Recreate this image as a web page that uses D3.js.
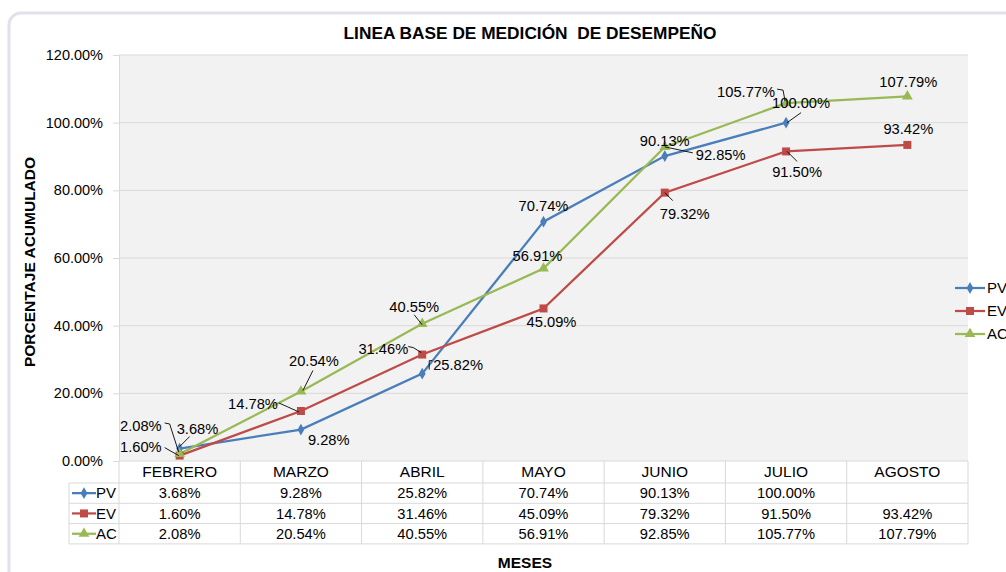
<!DOCTYPE html>
<html>
<head>
<meta charset="utf-8">
<script src="https://cdn.jsdelivr.net/npm/d3@7"></script>
<style>
  body { margin: 0; background: #fff; }
  svg { font-family: "Liberation Sans", Arial, sans-serif; }
</style>
</head>
<body>
<svg id="chart" width="1006" height="572"></svg>
<script>
// datos del grafico
var meses = ["FEBRERO", "MARZO", "ABRIL", "MAYO", "JUNIO", "JULIO", "AGOSTO"];
var pv = [3.68, 9.28, 25.82, 70.74, 90.13, 100.00, null];
var ev = [1.60, 14.78, 31.46, 45.09, 79.32, 91.50, 93.42];
var ac = [2.08, 20.54, 40.55, 56.91, 92.85, 105.77, 107.79];
var yTicks = [0, 20, 40, 60, 80, 100, 120];

var series = [
  { name: "PV", values: pv, color: "#4a7ebb", marker: "diamond" },
  { name: "EV", values: ev, color: "#be4b48", marker: "square" },
  { name: "AC", values: ac, color: "#98b954", marker: "triangle" }
];

// posicion de las etiquetas (dx, dy, anchor, linea guia)
var labelPos = {
  PV: [[-3, -20, "start", [[0, -2], [10, -12]]], [7, 10, "start"], [11, -9, "start", [[7, -4], [7, -13], [10, -13]]],
       [0, -16, "middle"], [0, -15, "middle"], [15, -20, "middle", [[1, 0], [15, -10]]], null],
  EV: [[-18, -9, "end", [[-15, -8], [-1, 0]]], [-23, -7, "end", [[-22, -8], [-13, -4], [-2, 1]]],
       [-14, -6, "end", [[-14, -8], [-9, -7], [-1, -2]]], [8, 13, "middle"],
       [-5, 21, "start", [[0, 0], [8, 8]]], [11, 20, "middle", [[1, 0], [11, 10]]], [1, -16, "middle"]],
  AC: [[-18, -28, "end", [[-15, -31], [-10, -30], [-1, -2]]], [13, -31, "middle", [[12, -21], [2, -1]]],
       [-8, -17, "middle", [[-8, -9], [0, 1]]], [-6, -13, "middle"], [31, 8, "start", [[0, 0], [28, 6]]],
       [-11, -11, "end", [[-9, -14], [-3, -13], [-1, -2]]], [1, -14, "middle"]]
};

var svg = d3.select("#chart");
var plotLeft = 119, plotRight = 968, plotTop = 55, plotBottom = 461;

// marco exterior
svg.append("rect")
  .attr("x", 9).attr("y", 13).attr("width", 1010).attr("height", 580)
  .attr("rx", 12)
  .attr("fill", "#fff").attr("stroke", "#e4dfec").attr("stroke-width", 3);

var x = d3.scaleBand().domain(meses).range([plotLeft, plotRight]);
var y = d3.scaleLinear().domain([0, 120]).range([plotBottom, plotTop]);
function cx(i) { return x(meses[i]) + x.bandwidth() / 2; }

// area de trazado
svg.append("rect")
  .attr("x", plotLeft).attr("y", plotTop).attr("width", plotRight - plotLeft).attr("height", plotBottom - plotTop)
  .attr("fill", "#f2f2f2");

svg.append("g").selectAll("line").data(yTicks.slice(1)).enter().append("line")
  .attr("x1", plotLeft).attr("x2", plotRight)
  .attr("y1", function (d) { return y(d); }).attr("y2", function (d) { return y(d); })
  .attr("stroke", "#d9d9d9").attr("stroke-width", 1);

var yAxis = svg.append("g")
  .attr("transform", "translate(" + plotLeft + ",0)")
  .call(d3.axisLeft(y).tickValues(yTicks).tickSize(6).tickPadding(10)
    .tickFormat(function (d) { return d.toFixed(2) + "%"; }));
yAxis.select(".domain").attr("stroke", "#d9d9d9");
yAxis.selectAll(".tick line").attr("stroke", "#d9d9d9");
yAxis.selectAll(".tick text").attr("font-size", 14.5).attr("fill", "#000")
  .attr("font-family", "Liberation Sans, Arial, sans-serif");

// titulo
svg.append("text")
  .attr("x", 530).attr("y", 39).attr("text-anchor", "middle")
  .attr("font-size", 17.3).attr("font-weight", "bold")
  .style("white-space", "pre")
  .text("LINEA BASE DE MEDICIÓN  DE DESEMPEÑO");

svg.append("text")
  .attr("transform", "translate(35,262) rotate(-90)")
  .attr("text-anchor", "middle").attr("font-size", 15.5).attr("font-weight", "bold")
  .text("PORCENTAJE ACUMULADO");

svg.append("text")
  .attr("x", 525).attr("y", 568).attr("text-anchor", "middle")
  .attr("font-size", 15.5).attr("font-weight", "bold")
  .text("MESES");

function drawMarker(g, type, px, py, color) {
  if (type === "diamond") {
    g.append("path").attr("d", d3.symbol().type(d3.symbolDiamond).size(40)())
      .attr("transform", "translate(" + px + "," + py + ")").attr("fill", color);
  } else if (type === "square") {
    g.append("rect").attr("x", px - 4).attr("y", py - 4).attr("width", 8).attr("height", 8)
      .attr("fill", color);
  } else {
    g.append("path").attr("d", d3.symbol().type(d3.symbolTriangle).size(50)())
      .attr("transform", "translate(" + px + "," + py + ")").attr("fill", color);
  }
}

// lineas y marcadores
var line = d3.line()
  .defined(function (d) { return d != null; })
  .x(function (d, i) { return cx(i); })
  .y(function (d) { return y(d); });

series.forEach(function (s) {
  svg.append("path").datum(s.values)
    .attr("d", line).attr("fill", "none")
    .attr("stroke", s.color).attr("stroke-width", 2.25);
});
series.forEach(function (s) {
  var g = svg.append("g");
  s.values.forEach(function (v, i) {
    if (v == null) return;
    drawMarker(g, s.marker, cx(i), y(v), s.color);
  });
});

// etiquetas de datos
var lab = svg.append("g").attr("font-size", 14.7);
series.forEach(function (s) {
  s.values.forEach(function (v, i) {
    var p = labelPos[s.name][i];
    if (v == null || !p) return;
    var px = cx(i), py = y(v);
    if (p[3]) {
      lab.append("path")
        .attr("d", d3.line()(p[3].map(function (q) { return [px + q[0], py + q[1]]; })))
        .attr("fill", "none").attr("stroke", "#000").attr("stroke-width", 0.9);
    }
    lab.append("text")
      .attr("x", px + p[0]).attr("y", py + p[1]).attr("dy", "0.35em")
      .attr("text-anchor", p[2])
      .text(v.toFixed(2) + "%");
  });
});

// tabla de datos
var rowTop = 483, rowH = 20.3, keyLeft = 69;
var tbl = svg.append("g");
var gridColor = "#d9d9d9";
tbl.append("line").attr("x1", plotLeft).attr("x2", plotRight).attr("y1", plotBottom).attr("y2", plotBottom)
  .attr("stroke", gridColor);
for (var r = 0; r <= 3; r++) {
  tbl.append("line").attr("x1", keyLeft).attr("x2", plotRight)
    .attr("y1", rowTop + r * rowH).attr("y2", rowTop + r * rowH).attr("stroke", gridColor);
}
tbl.append("line").attr("x1", keyLeft).attr("x2", keyLeft)
  .attr("y1", rowTop).attr("y2", rowTop + 3 * rowH).attr("stroke", gridColor);
meses.concat([null]).forEach(function (m, i) {
  var xx = m ? x(m) : plotRight;
  tbl.append("line").attr("x1", xx).attr("x2", xx)
    .attr("y1", plotBottom).attr("y2", rowTop + 3 * rowH).attr("stroke", gridColor);
});
tbl.selectAll("text.mes").data(meses).enter().append("text")
  .attr("x", function (d, i) { return cx(i); }).attr("y", 472).attr("dy", "0.35em")
  .attr("text-anchor", "middle").attr("font-size", 15.5)
  .text(function (d) { return d; });

series.forEach(function (s, r) {
  var cy = rowTop + r * rowH + rowH / 2;
  tbl.append("line").attr("x1", 72).attr("x2", 96).attr("y1", cy).attr("y2", cy)
    .attr("stroke", s.color).attr("stroke-width", 2.25);
  drawMarker(tbl, s.marker, 84, cy, s.color);
  tbl.append("text").attr("x", 96).attr("y", cy).attr("dy", "0.35em")
    .attr("font-size", 15).text(s.name);
  s.values.forEach(function (v, i) {
    if (v == null) return;
    tbl.append("text").attr("x", cx(i)).attr("y", cy).attr("dy", "0.35em")
      .attr("text-anchor", "middle").attr("font-size", 14.7)
      .text(v.toFixed(2) + "%");
  });
});

// leyenda
series.forEach(function (s, r) {
  var ly = 288 + r * 23;
  svg.append("line").attr("x1", 955).attr("x2", 985).attr("y1", ly).attr("y2", ly)
    .attr("stroke", s.color).attr("stroke-width", 2.25);
  drawMarker(svg, s.marker, 970, ly, s.color);
  svg.append("text").attr("x", 987).attr("y", ly).attr("dy", "0.35em")
    .attr("font-size", 15).text(s.name);
});
</script>
</body>
</html>
